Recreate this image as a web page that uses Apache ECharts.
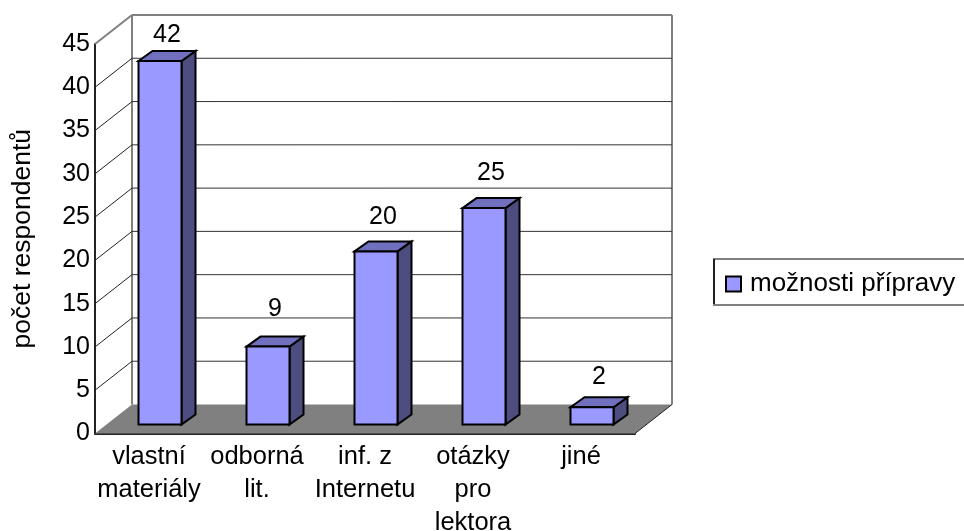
<!DOCTYPE html>
<html>
<head>
<meta charset="utf-8">
<style>html,body{margin:0;padding:0;background:#fff;overflow:hidden}#c{width:964px;height:531px}</style>
<script src="https://cdn.jsdelivr.net/npm/echarts@6/dist/echarts.min.js"></script>
</head>
<body>
<div id="c"></div>
<script>
const categories = ['vlastní\nmateriály', 'odborná\nlit.', 'inf. z\nInternetu', 'otázky\npro\nlektora', 'jiné'];
const values = [42, 9, 20, 25, 2];
const yTicks = [0, 5, 10, 15, 20, 25, 30, 35, 40, 45];
const seriesName = 'možnosti přípravy';

// Oblique projection of the chart box and of each column, in pixels
const DEPTH_X = 37, DEPTH_Y = 29;
const BAR_W = 43, BAR_DX = 14, BAR_DY = 10, BAR_IN_X = 11, BAR_IN_Y = 9;
// Distance of each value label above the front top edge of its column
const LABEL_LIFT = [26, 37, 34, 35, 30];
const FONT = '"Liberation Sans", Arial, sans-serif';

function poly(points, fill, stroke, lw) {
  return { type: 'polygon', shape: { points }, style: { fill, stroke, lineWidth: lw, lineJoin: 'miter' } };
}
function line(x1, y1, x2, y2, stroke, lw) {
  return { type: 'line', shape: { x1, y1, x2, y2 }, style: { stroke, lineWidth: lw } };
}

// Walls, floor and gridlines of the box
function renderFrame(params, api) {
  const y = api.coord([0, api.value(0)])[1];
  const cs = params.coordSys;
  const L = cs.x, R = cs.x + cs.width, T = cs.y, B = cs.y + cs.height;
  const kids = [];
  if (params.dataIndex === 0) {
    kids.push(poly([[L, B], [L + DEPTH_X, B - DEPTH_Y], [R + DEPTH_X, B - DEPTH_Y], [R, B]], '#808080', null, 0));
    kids.push(line(L + DEPTH_X, T - DEPTH_Y, L + DEPTH_X, B - DEPTH_Y, '#808080', 2));
    kids.push(line(R + DEPTH_X, T - DEPTH_Y, R + DEPTH_X, B - DEPTH_Y, '#808080', 2));
    kids.push(line(L + DEPTH_X, T - DEPTH_Y, R + DEPTH_X, T - DEPTH_Y, '#808080', 2));
    kids.push(line(L, T, L + DEPTH_X, T - DEPTH_Y, '#808080', 2));
    kids.push(line(R, B, R + DEPTH_X, B - DEPTH_Y, '#222', 1));
  } else if (api.value(0) !== 45) {
    kids.push(line(L, y, L + DEPTH_X, y - DEPTH_Y, '#222', 1));
    kids.push(line(L + DEPTH_X, y - DEPTH_Y, R + DEPTH_X, y - DEPTH_Y, '#333', 1));
  }
  return { type: 'group', children: kids };
}

// One column: front, top and side faces plus its value above
function renderBar(params, api) {
  const i = api.value(0), v = api.value(1);
  const base = api.coord([i, 0]), top = api.coord([i, v]);
  const x0 = base[0] + BAR_IN_X - BAR_W / 2, x1 = x0 + BAR_W;
  const yb = base[1] - BAR_IN_Y, yt = top[1] - BAR_IN_Y;
  const dx = BAR_DX, dy = BAR_DY;
  return {
    type: 'group',
    children: [
      poly([[x1, yt], [x1 + dx, yt - dy], [x1 + dx, yb - dy], [x1, yb]], '#4D4D80', '#000', 2),
      poly([[x0, yt], [x0 + dx, yt - dy], [x1 + dx, yt - dy], [x1, yt]], '#7070BF', '#000', 2),
      poly([[x0, yb], [x0, yt], [x1, yt], [x1, yb]], '#9999FF', '#000', 2),
      { type: 'text', style: { text: String(v), x: (x0 + x1 + dx) / 2, y: yt - LABEL_LIFT[i], align: 'center', verticalAlign: 'middle', font: '25px ' + FONT, fill: '#000' } }
    ]
  };
}

const chart = echarts.init(document.getElementById('c'), null, { renderer: 'canvas' });
chart.setOption({
  animation: false,
  backgroundColor: '#fff',
  grid: { left: 95, right: 329, top: 44, bottom: 97.5, outerBoundsMode: 'none' },
  legend: {
    data: [{ name: seriesName, icon: 'rect', itemStyle: { color: '#9999FF', borderColor: '#000', borderWidth: 2 } }],
    left: 714, top: 259, padding: [12, 12, 8, 11], itemWidth: 15, itemHeight: 15,
    borderColor: '#808080', borderWidth: 2, backgroundColor: '#fff',
    textStyle: { fontFamily: FONT, fontSize: 26, color: '#000', padding: [0, 0, 0, 4] }
  },
  graphic: [
    { type: 'line', z: 10, shape: { x1: 714, y1: 259, x2: 714, y2: 304 }, style: { stroke: '#000', lineWidth: 1.5 } }
  ],
  xAxis: {
    type: 'category', data: categories,
    axisLine: { show: true, lineStyle: { color: '#222', width: 2 } },
    axisTick: { show: false },
    axisLabel: { fontFamily: FONT, fontSize: 25.5, color: '#000', lineHeight: 33, margin: 7, interval: 0 }
  },
  yAxis: {
    type: 'value', min: 0, max: 45, interval: 5,
    name: 'počet respondentů', nameLocation: 'middle', nameGap: 59, nameRotate: 90,
    nameTextStyle: { fontFamily: FONT, fontSize: 26.5, color: '#000' },
    axisLine: { show: true, lineStyle: { color: '#222', width: 2 } },
    axisTick: { show: false },
    splitLine: { show: false },
    axisLabel: { fontFamily: FONT, fontSize: 25, color: '#000', margin: 5 }
  },
  series: [
    { type: 'custom', name: 'mřížka', silent: true, z: 1, renderItem: renderFrame, data: yTicks.map(t => [t]), encode: { y: 0 }, clip: false },
    { type: 'custom', name: seriesName, z: 2, renderItem: renderBar, data: values.map((v, i) => [i, v]), encode: { x: 0, y: 1 }, clip: false, itemStyle: { color: '#9999FF' } }
  ]
});
</script>
</body>
</html>
